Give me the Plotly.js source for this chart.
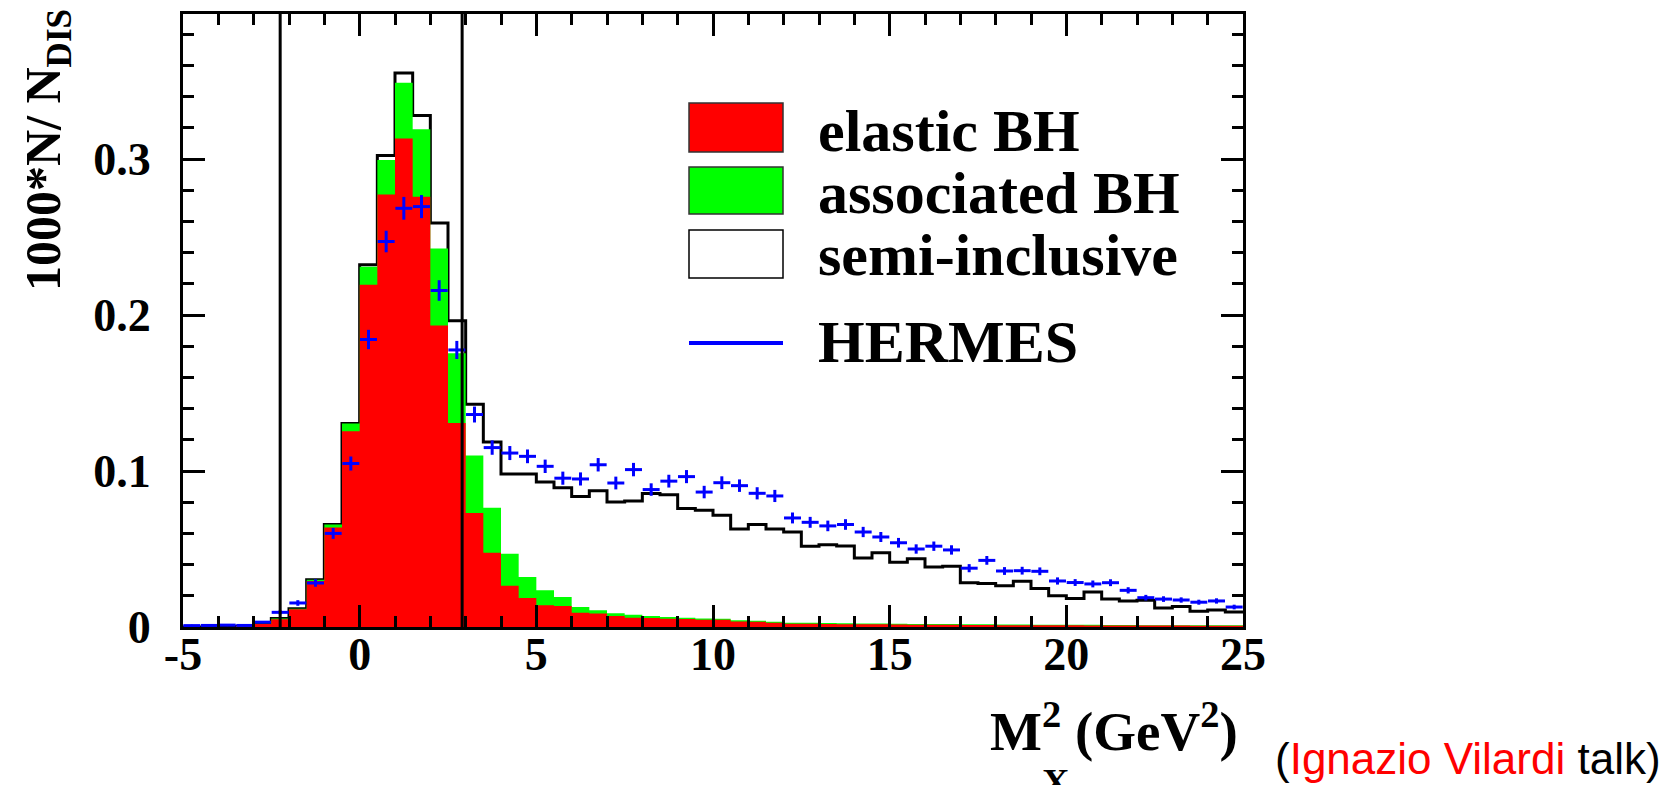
<!DOCTYPE html>
<html>
<head>
<meta charset="utf-8">
<script src="https://cdn.plot.ly/plotly-3.0.1.min.js"></script>
<style>
  html, body { margin: 0; padding: 0; background: #ffffff; }
  #chart { width: 1668px; height: 785px; }
</style>
</head>
<body>
<div id="chart"></div>
<script>
// Missing-mass squared bins, 0.5 GeV^2 wide, from -5 to 25 GeV^2 (bin centres)
const binWidth = 0.5;
const binCenters = [
  -4.75, -4.25, -3.75, -3.25, -2.75, -2.25, -1.75, -1.25, -0.75, -0.25,
   0.25,  0.75,  1.25,  1.75,  2.25,  2.75,  3.25,  3.75,  4.25,  4.75,
   5.25,  5.75,  6.25,  6.75,  7.25,  7.75,  8.25,  8.75,  9.25,  9.75,
  10.25, 10.75, 11.25, 11.75, 12.25, 12.75, 13.25, 13.75, 14.25, 14.75,
  15.25, 15.75, 16.25, 16.75, 17.25, 17.75, 18.25, 18.75, 19.25, 19.75,
  20.25, 20.75, 21.25, 21.75, 22.25, 22.75, 23.25, 23.75, 24.25, 24.75
];

// Monte Carlo components (1000*N/N_DIS per bin), stacked in this order
const elasticBH = [
  0, 0, 0, 0.0005, 0.0020, 0.0050, 0.0113, 0.0295, 0.0638, 0.1255,
  0.2194, 0.2772, 0.3132, 0.2758, 0.1932, 0.1307, 0.0730, 0.0476, 0.0265, 0.0186,
  0.0139, 0.0134, 0.0092, 0.0087, 0.0071, 0.0060, 0.0058, 0.0053, 0.0051, 0.0047,
  0.0047, 0.0036, 0.0034, 0.0028, 0.0021, 0.0021, 0.0019, 0.0018, 0.0017, 0.0017,
  0.0016, 0.0015, 0.0015, 0.0014, 0.0013, 0.0013, 0.0012, 0.0012, 0.0011, 0.0011,
  0.0011, 0.0010, 0.0010, 0.0010, 0.0009, 0.0009, 0.0009, 0.0008, 0.0008, 0.0008
];
const associatedBH = [
  0, 0, 0, 0, 0.0001, 0.0005, 0.0004, 0.0008, 0.0019, 0.0050,
  0.0116, 0.0222, 0.0357, 0.0432, 0.0495, 0.0448, 0.0370, 0.0289, 0.0205, 0.0134,
  0.0096, 0.0058, 0.0036, 0.0020, 0.0017, 0.0019, 0.0012, 0.0011, 0.0009, 0.0007,
  0.0006, 0.0007, 0.0006, 0.0005, 0.0007, 0.0006, 0.0006, 0.0006, 0.0005, 0.0005,
  0.0005, 0.0005, 0.0005, 0.0005, 0.0005, 0.0004, 0.0004, 0.0004, 0.0004, 0.0004,
  0.0003, 0.0004, 0.0003, 0.0003, 0.0003, 0.0003, 0.0003, 0.0003, 0.0003, 0.0003
];
const semiInclusive = [
  0, 0, 0, 0, 0, 0, 0, 0, 0, 0,
  0.0012, 0.0028, 0.0063, 0.0089, 0.0163, 0.0208, 0.0328, 0.0421, 0.0510, 0.0660,
  0.0695, 0.0700, 0.0708, 0.0767, 0.0713, 0.0729, 0.0786, 0.0784, 0.0699, 0.0694,
  0.0663, 0.0585, 0.0617, 0.0596, 0.0581, 0.0490, 0.0503, 0.0495, 0.0420, 0.0454,
  0.0394, 0.0418, 0.0364, 0.0370, 0.0266, 0.0262, 0.0248, 0.0277, 0.0231, 0.0186,
  0.0168, 0.0210, 0.0167, 0.0154, 0.0159, 0.0110, 0.0120, 0.0090, 0.0098, 0.0085
];

// HERMES data points and their statistical errors
const hermes = [
  0.0009, 0.0010, 0.0012, 0.0010, 0.0031, 0.0094, 0.0154, 0.0282, 0.0600, 0.1048,
  0.1843, 0.2471, 0.2684, 0.2695, 0.2157, 0.1776, 0.1362, 0.1150, 0.1115, 0.1094,
  0.1030, 0.0954, 0.0949, 0.1040, 0.0923, 0.1009, 0.0881, 0.0935, 0.0964, 0.0865,
  0.0925, 0.0906, 0.0857, 0.0840, 0.0699, 0.0671, 0.0648, 0.0657, 0.0609, 0.0577,
  0.0540, 0.0500, 0.0518, 0.0494, 0.0377, 0.0427, 0.0359, 0.0361, 0.0357, 0.0295,
  0.0285, 0.0276, 0.0284, 0.0235, 0.0188, 0.0179, 0.0173, 0.0159, 0.0167, 0.0128
];
const hermesErr = [
  0.0003, 0.0003, 0.0003, 0.0003, 0.0006, 0.0013, 0.0018, 0.0024, 0.0035, 0.0045,
  0.0062, 0.0069, 0.0073, 0.0074, 0.0066, 0.0058, 0.0051, 0.0046, 0.0045, 0.0044,
  0.0043, 0.0042, 0.0042, 0.0043, 0.0041, 0.0043, 0.0040, 0.0041, 0.0042, 0.0040,
  0.0041, 0.0040, 0.0039, 0.0039, 0.0035, 0.0035, 0.0034, 0.0034, 0.0033, 0.0032,
  0.0031, 0.0030, 0.0030, 0.0030, 0.0026, 0.0028, 0.0025, 0.0025, 0.0025, 0.0023,
  0.0022, 0.0022, 0.0022, 0.0020, 0.0018, 0.0018, 0.0017, 0.0016, 0.0017, 0.0015
];

// Exclusivity window in M_X^2 (GeV^2)
const cuts = [-2.25, 2.9];

// Axis ticks
const xTickVals = [-5, 0, 5, 10, 15, 20, 25];
const xTickText = ['-5', '0', '5', '10', '15', '20', '25'];
const yTickVals = [0, 0.1, 0.2, 0.3];
const yTickText = ['0', '0.1', '0.2', '0.3'];

// ---- stacking ----
const stackGreen = elasticBH.map((v, i) => v + associatedBH[i]);
const stackTotal = stackGreen.map((v, i) => v + semiInclusive[i]);

// step outline through bin edges (last level repeated at the right edge)
function steps(levels) {
  const xs = [], ys = [];
  for (let i = 0; i < binCenters.length; i++) {
    xs.push(binCenters[i] - binWidth / 2);
    ys.push(levels[i]);
  }
  xs.push(binCenters[binCenters.length - 1] + binWidth / 2);
  ys.push(levels[levels.length - 1]);
  return { x: xs, y: ys };
}

const W = 1668, H = 785;
const M = { l: 183, r: 425, t: 14, b: 158 };
const PW = W - M.l - M.r, PH = H - M.t - M.b;
// page pixel -> paper fraction (for decorations placed around the frame)
const px = v => (v - M.l) / PW;
const py = v => (H - M.b - v) / PH;

const serif = 'Liberation Serif, Times New Roman, serif';

const sTot = steps(stackTotal), sGreen = steps(stackGreen), sRed = steps(elasticBH);

const traces = [
  { // semi-inclusive: top of the stack, drawn as a black outline
    type: 'scatter', mode: 'lines', x: sTot.x, y: sTot.y,
    line: { shape: 'hv', color: '#000000', width: 3 },
    hoverinfo: 'skip', showlegend: false
  },
  { // associated BH
    type: 'scatter', mode: 'lines', x: sGreen.x, y: sGreen.y,
    line: { shape: 'hv', color: '#00ff00', width: 0 },
    fill: 'tozeroy', fillcolor: '#00ff00',
    hoverinfo: 'skip', showlegend: false
  },
  { // elastic BH
    type: 'scatter', mode: 'lines', x: sRed.x, y: sRed.y,
    line: { shape: 'hv', color: '#ff0000', width: 0 },
    fill: 'tozeroy', fillcolor: '#ff0000',
    hoverinfo: 'skip', showlegend: false
  },
  { // HERMES
    type: 'scatter', mode: 'markers', x: binCenters, y: hermes,
    marker: { size: 2, color: '#0000ff' },
    error_x: { type: 'constant', value: 0.24, thickness: 3, width: 0, color: '#0000ff' },
    error_y: { type: 'data', array: hermesErr, thickness: 3, width: 0, color: '#0000ff' },
    showlegend: false
  }
];

const shapes = cuts.map(c => ({
  type: 'line', xref: 'x', yref: 'paper', x0: c, x1: c, y0: 0, y1: 1,
  line: { color: '#000000', width: 3 }, layer: 'above'
}));

// legend boxes
const legendBox = (top, bottom, fill, edge) => ({
  type: 'rect', xref: 'paper', yref: 'paper',
  x0: px(689), x1: px(783), y0: py(bottom), y1: py(top),
  fillcolor: fill, line: { color: edge, width: 1.5 }, layer: 'above'
});
shapes.push(legendBox(103, 152, '#ff0000', '#333333'));
shapes.push(legendBox(167, 214, '#00ff00', '#333333'));
shapes.push(legendBox(230, 278, '#ffffff', '#000000'));
shapes.push({
  type: 'line', xref: 'paper', yref: 'paper',
  x0: px(689), x1: px(783), y0: py(343), y1: py(343),
  line: { color: '#0000ff', width: 4 }, layer: 'above'
});

const legendText = (label, cy) => ({
  xref: 'paper', yref: 'paper', x: px(816), y: py(cy),
  xanchor: 'left', yanchor: 'middle', showarrow: false, text: label,
  font: { family: serif, size: 60, color: '#000000', weight: 'bold' }
});

const annotations = [
  legendText('elastic BH', 131),
  legendText('associated BH', 193),
  legendText('semi-inclusive', 255),
  legendText('HERMES', 342),
  { // y-axis title
    xref: 'paper', yref: 'paper', x: px(47), y: py(150),
    xanchor: 'center', yanchor: 'middle', textangle: -90, showarrow: false,
    text: '1000*N/ N<sub>DIS</sub>',
    font: { family: serif, size: 50, color: '#000000', weight: 'bold' }
  },
  { // x-axis title
    xref: 'paper', yref: 'paper', x: px(1240), y: py(764),
    xanchor: 'right', yanchor: 'bottom', showarrow: false,
    text: 'M<sup>2</sup> (GeV<sup>2</sup>)',
    font: { family: serif, size: 55, color: '#000000', weight: 'bold' }
  },
  { // subscript of M
    xref: 'paper', yref: 'paper', x: px(1055), y: py(759),
    xanchor: 'center', yanchor: 'top', showarrow: false,
    text: 'X',
    font: { family: serif, size: 38, color: '#000000', weight: 'bold' }
  },
  { // credit
    xref: 'paper', yref: 'paper', x: px(1273), y: py(758),
    xanchor: 'left', yanchor: 'middle', showarrow: false,
    text: '(<span style="color:#ff0000">Ignazio Vilardi</span> talk)',
    font: { family: 'Liberation Sans, Arial, sans-serif', size: 44, color: '#000000' }
  }
];

const axisCommon = {
  ticks: 'inside', ticklen: 22, tickwidth: 3, tickcolor: '#000000',
  showline: true, linewidth: 3, linecolor: '#000000', mirror: 'allticks',
  showgrid: false, zeroline: false, fixedrange: true,
  tickfont: { family: serif, size: 46, color: '#000000', weight: 'bold' }
};

const layout = {
  width: W, height: H,
  margin: M,
  paper_bgcolor: '#ffffff', plot_bgcolor: '#ffffff',
  showlegend: false,
  xaxis: Object.assign({}, axisCommon, {
    range: [-5, 25], tickmode: 'array', tickvals: xTickVals, ticktext: xTickText,
    minor: { tickmode: 'linear', tick0: -5, dtick: 1, ticks: 'inside', ticklen: 11, tickwidth: 3, tickcolor: '#000000', showgrid: false },
    ticklabelstandoff: -15
  }),
  yaxis: Object.assign({}, axisCommon, {
    range: [0, PH / 1560], tickmode: 'array', tickvals: yTickVals, ticktext: yTickText,
    minor: { tickmode: 'linear', tick0: 0, dtick: 0.02, ticks: 'inside', ticklen: 11, tickwidth: 3, tickcolor: '#000000', showgrid: false },
    ticklabelstandoff: 20
  }),
  shapes: shapes,
  annotations: annotations
};

Plotly.newPlot('chart', traces, layout, { displayModeBar: false, staticPlot: true });
</script>
</body>
</html>
